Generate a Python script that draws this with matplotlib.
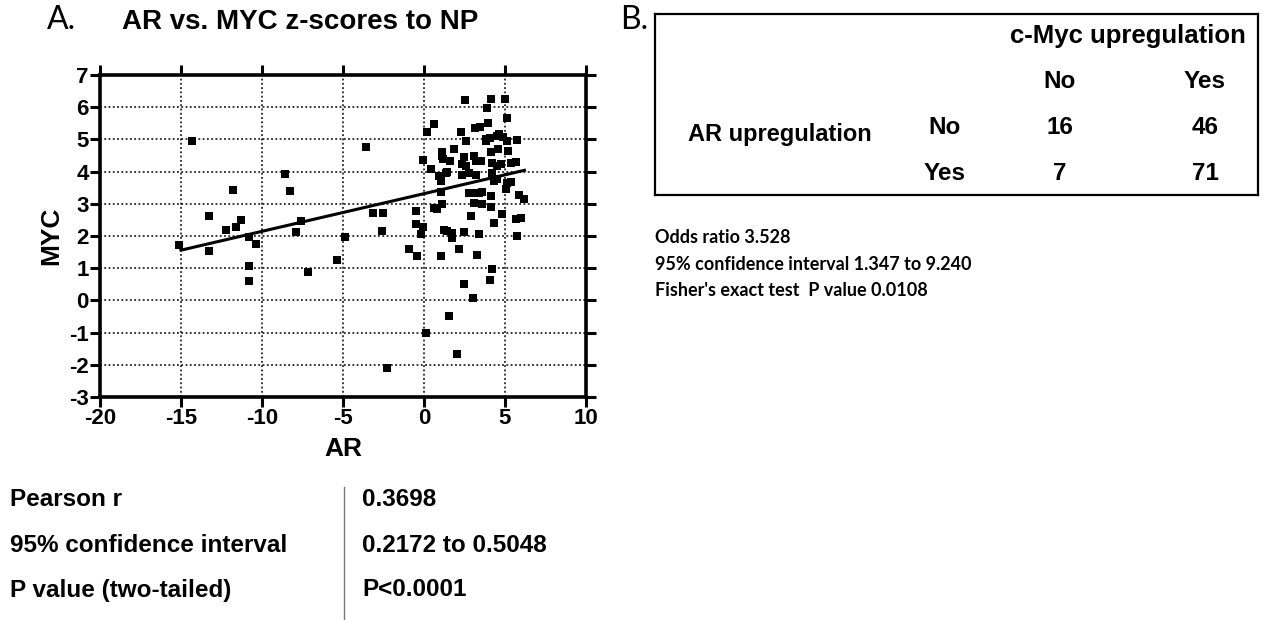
import matplotlib
matplotlib.use("Agg")
import matplotlib.pyplot as plt
from matplotlib.lines import Line2D

plt.rcParams["axes.unicode_minus"] = False

# AR vs MYC z-scores
ar = [-15.1, -14.3, -13.25, -13.25, -12.2, -11.8, -11.6, -11.3, -10.8, -10.8,
      -10.8, -10.4, -8.55, -8.3, -7.9, -7.6, -7.15, -5.35, -4.85, -3.55,
      -3.15, -2.55, -2.6, -2.3,
      -0.5, -0.5, -0.05, -0.2, -0.95, -0.45, 0.1, -0.05, 0.17, 0.62, 0.41,
      2.53, 4.12, 4.98, 3.89, 5.15, 3.95, 3.13, 3.46, 2.27, 2.57,
      3.83, 3.83, 4.1, 4.5, 4.9, 5.15, 4.6, 5.77, 4.59, 5.2, 4.12, 1.85,
      1.14, 1.11, 1.2, 1.6, 2.45, 2.37, 2.57, 3.09, 3.19, 3.5,
      4.22, 4.53, 4.73, 5.35, 5.66, 1.44,
      0.92, 1.03, 1.33, 2.37, 2.78, 3.19, 4.22, 4.32, 4.53, 5.15, 5.35, 5.04,
      1.03, 2.78, 3.09, 3.4, 3.55, 4.12, 5.86, 6.17,
      0.62, 0.82, 1.13, 3.09, 3.6, 4.12, 2.88, 4.8, 5.66, 5.96,
      1.23, 1.44, 1.75, 1.75, 2.47, 3.4, 4.32, 5.77, 2.16, 1.03, 3.3,
      4.22, 4.06, 2.49, 3.03, 1.52, 2.06]
myc = [1.73, 4.95, 2.62, 1.54, 2.2, 3.43, 2.28, 2.5, 1.97, 1.07,
       0.61, 1.75, 3.91, 3.39, 2.13, 2.46, 0.88, 1.27, 1.98, 4.76,
       2.72, 2.72, 2.15, -2.09,
       2.77, 2.38, 2.28, 2.05, 1.61, 1.38, -1.01, 4.35, 5.23, 5.48, 4.09,
       6.23, 6.26, 6.24, 5.98, 5.66, 5.52, 5.34, 5.39, 5.24, 4.95,
       5.02, 4.95, 5.05, 5.1, 5.08, 4.95, 5.16, 4.97, 4.71, 4.64, 4.61, 4.71,
       4.6, 4.48, 4.38, 4.32, 4.45, 4.24, 4.17, 4.48, 4.33, 4.33,
       4.28, 4.17, 4.23, 4.28, 4.31, 4.0,
       3.86, 3.7, 3.97, 3.88, 3.97, 3.88, 3.97, 3.71, 3.76, 3.65, 3.67, 3.45,
       3.36, 3.34, 3.32, 3.34, 3.36, 3.24, 3.26, 3.14,
       2.88, 2.83, 2.98, 3.03, 2.98, 2.91, 2.62, 2.69, 2.52, 2.55,
       2.2, 2.15, 2.1, 1.95, 2.13, 2.05, 2.39, 2.0, 1.61, 1.39, 1.4,
       0.98, 0.64, 0.52, 0.07, -0.47, -1.65]

# linear regression line as drawn
fit_x = [-15.0, 6.2]
fit_y = [1.56, 4.04]

x_ticks = [-20, -15, -10, -5, 0, 5, 10]
y_ticks = [-3, -2, -1, 0, 1, 2, 3, 4, 5, 6, 7]

stat_names = ["Pearson r", "95% confidence interval", "P value (two-tailed)"]
stat_values = ["0.3698", "0.2172 to 0.5048", "P<0.0001"]

col_labels = ["No", "Yes"]
row_labels = ["No", "Yes"]
counts = [[16, 46], [7, 71]]
fisher_lines = ["Odds ratio 3.528",
                "95% confidence interval 1.347 to 9.240",
                "Fisher's exact test  P value 0.0108"]

W, H = 1267, 620
fig = plt.figure(figsize=(W / 100, H / 100), dpi=100)


def fx(x):
    return x / W


def fy(y):
    return 1 - y / H


bold = dict(family="Liberation Sans", weight="bold")

# ---- panel A scatter
ax = fig.add_axes([fx(100), fy(397), fx(586) - fx(100), fy(75) - fy(397)])
ax.scatter(ar, myc, marker="s", s=30, color="black", linewidths=0, zorder=3)
ax.plot(fit_x, fit_y, color="black", lw=2.2, zorder=4)
ax.set_xlim(-20, 10)
ax.set_ylim(-3, 7)
ax.set_xticks(x_ticks)
ax.set_yticks(y_ticks)
ax.grid(True, color="black", linestyle=(0, (1.2, 1.6)), lw=1.1)
for sp in ax.spines.values():
    sp.set_linewidth(2.6)
ax.tick_params(direction="out", length=7, width=2.2, top=True, right=True,
               labelsize=16, pad=1)
for lab in ax.get_xticklabels() + ax.get_yticklabels():
    lab.set_fontfamily("Liberation Sans")
    lab.set_fontweight("bold")
ax.set_xlabel("AR", fontsize=19, labelpad=6, **bold)
ax.set_ylabel("MYC", fontsize=19, labelpad=4, **bold)

fig.text(fx(300), fy(22), "AR vs. MYC z-scores to NP", fontsize=20,
         ha="center", va="center", **bold)
fig.text(fx(47), fy(20), "A.", fontsize=23, family="Lato", ha="left", va="center")
fig.text(fx(620), fy(20), "B.", fontsize=23, family="Lato", ha="left", va="center")

# ---- stats under panel A
for i, (name, val) in enumerate(zip(stat_names, stat_values)):
    y = 500 + i * 45
    fig.text(fx(10), fy(y), name, fontsize=17.5, ha="left", va="center", **bold)
    fig.text(fx(362), fy(y), val, fontsize=17.5, ha="left", va="center", **bold)
fig.add_artist(Line2D([fx(344), fx(344)], [fy(487), fy(620)], color="#777777",
                      lw=1, transform=fig.transFigure))

# ---- panel B contingency table
box = fig.add_axes([fx(655), fy(195), fx(1258) - fx(655), fy(14) - fy(195)])
box.set_xticks([])
box.set_yticks([])
for sp in box.spines.values():
    sp.set_linewidth(1.6)

fig.text(fx(1128), fy(36), "c-Myc upregulation", fontsize=18.5, ha="center",
         va="center", **bold)
col_x = [1060, 1205]
row_y = [128, 173]
for cx, lab in zip(col_x, col_labels):
    fig.text(fx(cx), fy(82), lab, fontsize=17.5, ha="center", va="center", **bold)
fig.text(fx(688), fy(135), "AR upregulation", fontsize=17, ha="left",
         va="center", **bold)
for ry, lab, row in zip(row_y, row_labels, counts):
    fig.text(fx(945), fy(ry), lab, fontsize=17.5, ha="center", va="center", **bold)
    for cx, v in zip(col_x, row):
        fig.text(fx(cx), fy(ry), str(v), fontsize=17.5, ha="center",
                 va="center", **bold)

for i, line in enumerate(fisher_lines):
    fig.text(fx(655), fy(238 + i * 26.5), line, fontsize=13, family="Lato",
             weight="bold", ha="left", va="center")

fig.savefig("out.png", dpi=100)
